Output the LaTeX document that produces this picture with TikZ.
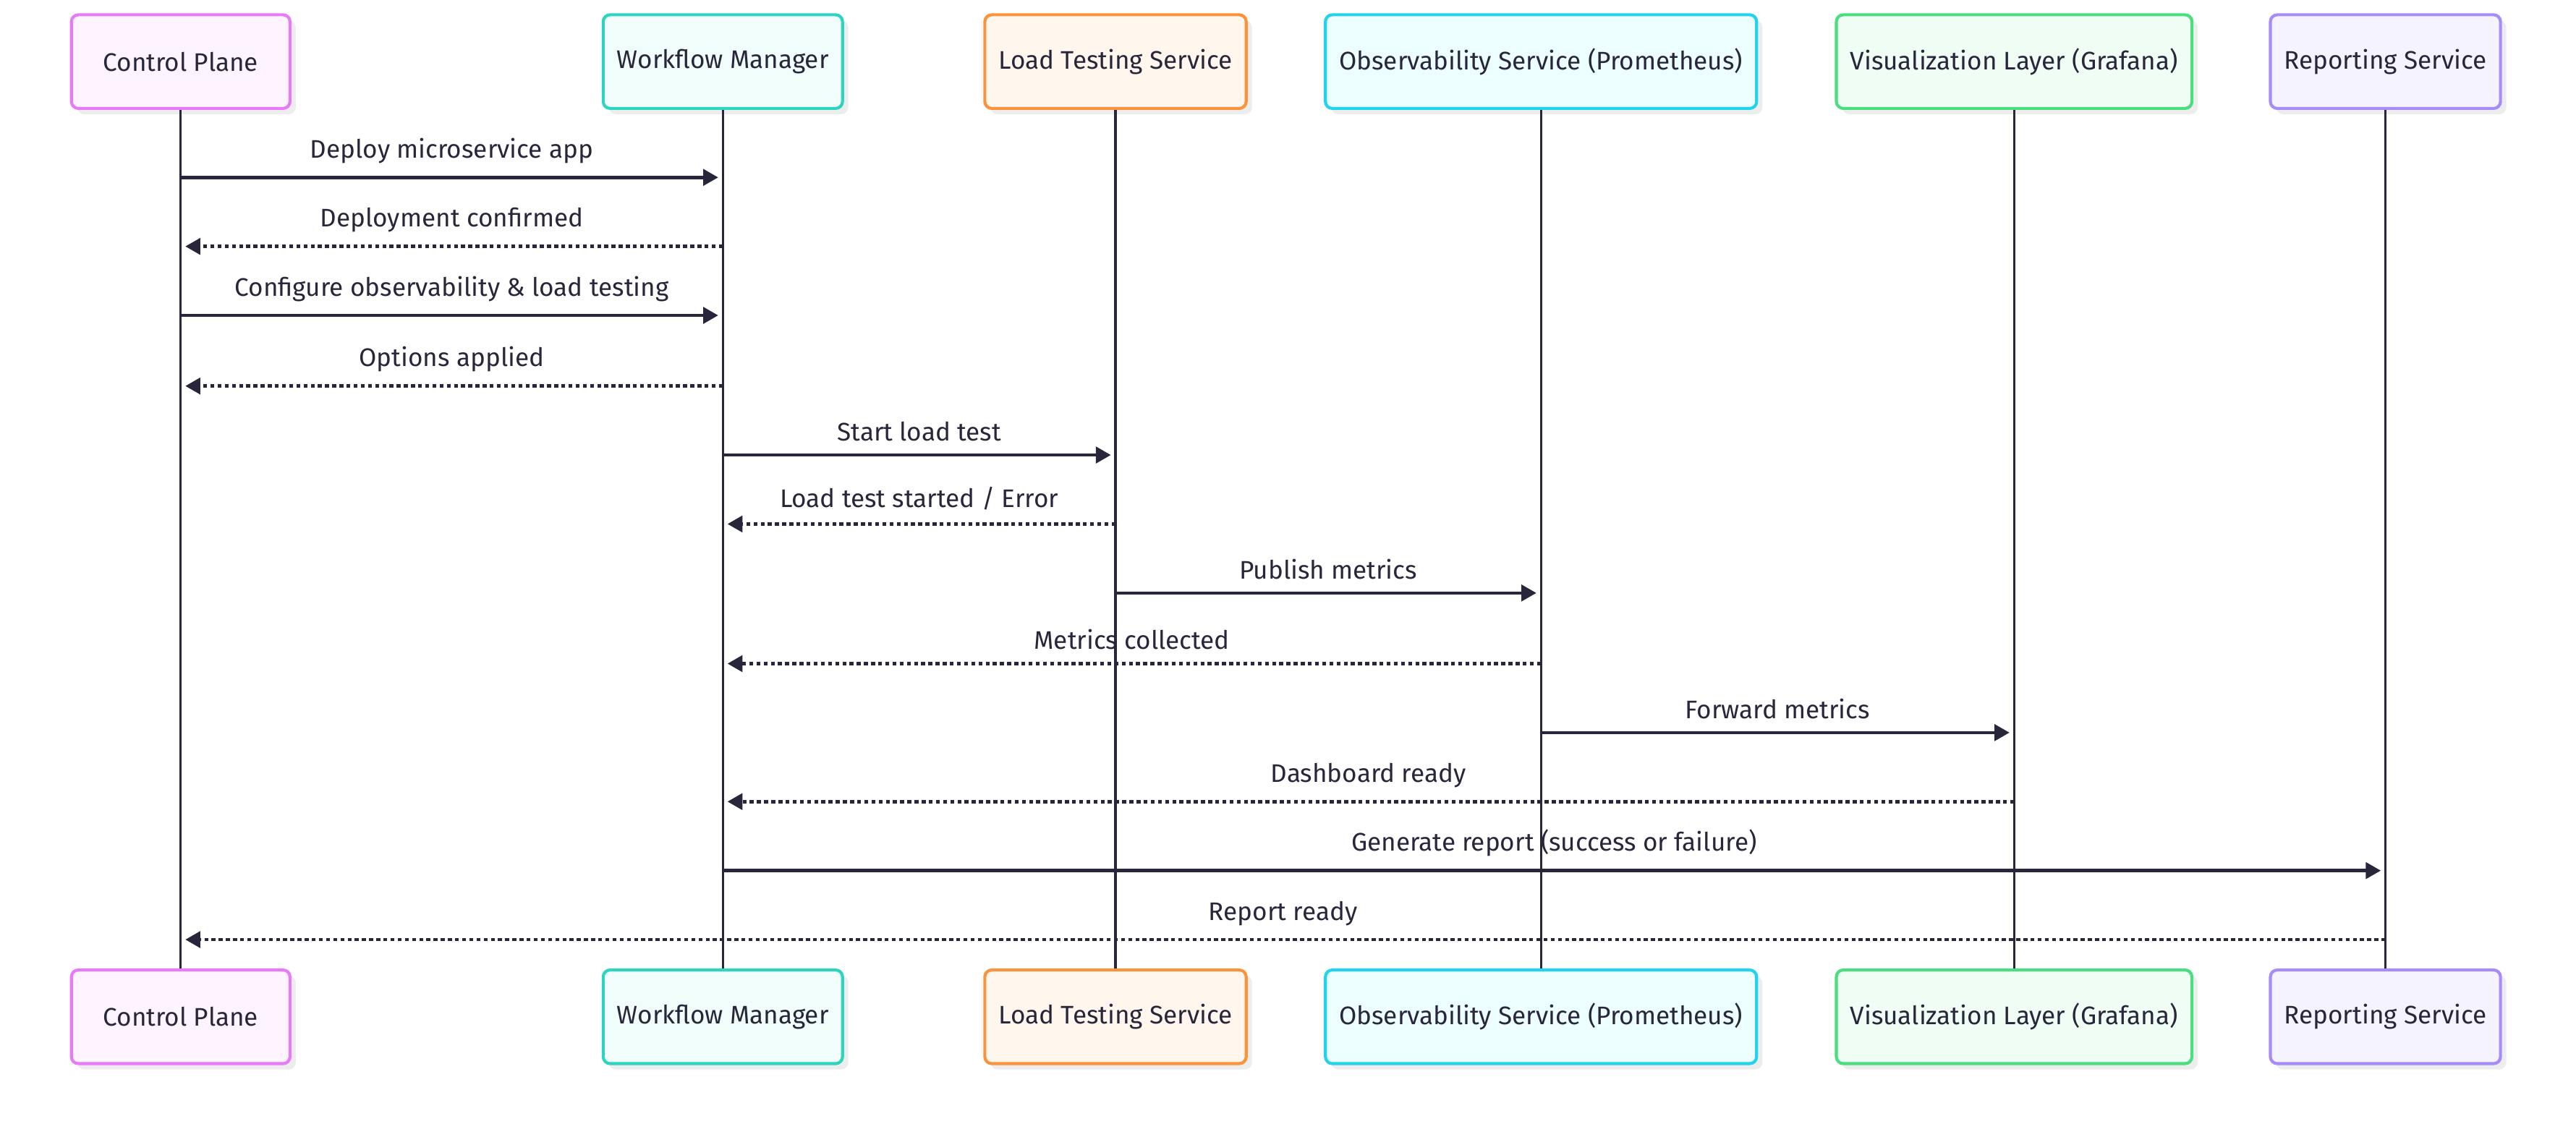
\documentclass[tikz,border=0pt]{standalone}
\usepackage{fontspec}
\setmainfont{Fira Sans}
\usepackage{tikz}
\usetikzlibrary{arrows.meta,shadows}

\definecolor{ink}{HTML}{28263B}
\definecolor{cpline}{HTML}{E879F9}\definecolor{cpfill}{HTML}{FDF4FF}
\definecolor{wmline}{HTML}{2DD4BF}\definecolor{wmfill}{HTML}{F0FDFA}
\definecolor{ltline}{HTML}{FB923C}\definecolor{ltfill}{HTML}{FFF7ED}
\definecolor{obline}{HTML}{22D3EE}\definecolor{obfill}{HTML}{ECFEFF}
\definecolor{vzline}{HTML}{4ADE80}\definecolor{vzfill}{HTML}{F0FDF4}
\definecolor{rpline}{HTML}{A78BFA}\definecolor{rpfill}{HTML}{F5F3FF}

\tikzset{
	actor/.style={draw,rounded corners=3pt,line width=1.3pt,minimum height=1.425cm,
		minimum width=3.325cm,inner xsep=6pt,text=ink,font=\fontsize{11}{13}\selectfont,
		drop shadow={shadow xshift=2.5pt,shadow yshift=-2.5pt,fill=black!7,opacity=1}},
	life/.style={ink,line width=1pt},
	call/.style={ink,line width=1.4pt,-{Triangle[length=6.5pt,width=7pt]},shorten >=2pt},
	reply/.style={call,dash pattern=on 1.7pt off 1.4pt},
	lbl/.style={text=ink,font=\fontsize{11}{13}\selectfont,above=2pt}
}

\begin{document}
\begin{tikzpicture}[x=0.025cm,y=-0.025cm]
	\useasboundingbox (0,0) rectangle (1568,684);
	% participants, top and bottom
	\node[actor,draw=cpline,fill=cpfill] (cp) at (110,37.5) {Control Plane};
	\node[actor,draw=wmline,fill=wmfill] (wm) at (440,37.5) {Workflow Manager};
	\node[actor,draw=ltline,fill=ltfill] (lt) at (679,37.5) {Load Testing Service};
	\node[actor,draw=obline,fill=obfill] (ob) at (938,37.5) {Observability Service (Prometheus)};
	\node[actor,draw=vzline,fill=vzfill] (vz) at (1226,37.5) {Visualization Layer (Grafana)};
	\node[actor,draw=rpline,fill=rpfill] (rp) at (1452,37.5) {Reporting Service};
	\node[actor,draw=cpline,fill=cpfill] (cpb) at (110,619) {Control Plane};
	\node[actor,draw=wmline,fill=wmfill] (wmb) at (440,619) {Workflow Manager};
	\node[actor,draw=ltline,fill=ltfill] (ltb) at (679,619) {Load Testing Service};
	\node[actor,draw=obline,fill=obfill] (obb) at (938,619) {Observability Service (Prometheus)};
	\node[actor,draw=vzline,fill=vzfill] (vzb) at (1226,619) {Visualization Layer (Grafana)};
	\node[actor,draw=rpline,fill=rpfill] (rpb) at (1452,619) {Reporting Service};

	% lifelines
	\draw[life] (cp) -- (cpb);
	\draw[life] (wm) -- (wmb);
	\draw[life] (lt) -- (ltb);
	\draw[life] (ob) -- (obb);
	\draw[life] (vz) -- (vzb);
	\draw[life] (rp) -- (rpb);

	% messages
	\draw[call] (cp |- 0,108) -- node[lbl]{Deploy microservice app} (wm |- 0,108);
	\draw[reply] (wm |- 0,150) -- node[lbl]{Deployment confirmed} (cp |- 0,150);
	\draw[call] (cp |- 0,192) -- node[lbl]{Configure observability \& load testing} (wm |- 0,192);
	\draw[reply] (wm |- 0,235) -- node[lbl]{Options applied} (cp |- 0,235);
	\draw[call] (wm |- 0,277) -- node[lbl]{Start load test} (lt |- 0,277);
	\draw[reply] (lt |- 0,319) -- node[lbl]{Load test started / Error} (wm |- 0,319);
	\draw[call] (lt |- 0,361) -- node[lbl]{Publish metrics} (ob |- 0,361);
	\draw[reply] (ob |- 0,404) -- node[lbl]{Metrics collected} (wm |- 0,404);
	\draw[call] (ob |- 0,446) -- node[lbl]{Forward metrics} (vz |- 0,446);
	\draw[reply] (vz |- 0,488) -- node[lbl]{Dashboard ready} (wm |- 0,488);
	\draw[call] (wm |- 0,530) -- node[lbl]{Generate report (success or failure)} (rp |- 0,530);
	\draw[reply] (rp |- 0,572) -- node[lbl]{Report ready} (cp |- 0,572);
\end{tikzpicture}
\end{document}
